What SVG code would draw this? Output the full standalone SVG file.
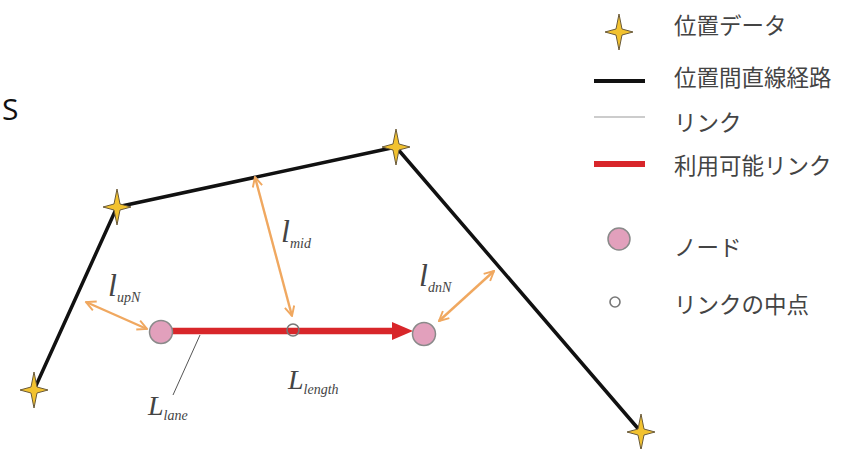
<svg xmlns="http://www.w3.org/2000/svg" width="841" height="449" viewBox="0 0 841 449">
<style>
.path{fill:none;stroke:#111;stroke-width:3.5;stroke-linejoin:round}
.dim{fill:none;stroke:#f0a860;stroke-width:2.4}
.node{fill:#e2a0bc;stroke:#8a8a8a;stroke-width:1.5}
.mid{fill:none;stroke:#777;stroke-width:1.6}
.leg{font-family:"Noto Sans CJK JP","Noto Sans",sans-serif;font-size:22.5px;fill:#444}
.var{font-family:"Liberation Serif",serif;font-style:italic;fill:#444}
.big{font-size:32px}
.sub{font-size:14px}
</style>
<defs>
<symbol id="star" viewBox="-16 -20 32 40" overflow="visible">
<path d="M0,-18 L3,-3 L14,0 L3,3 L0,18 L-3,3 L-14,0 L-3,-3 Z" fill="#f2c230" stroke="#6a5a3a" stroke-width="1"/>
</symbol>
<marker id="oa" viewBox="0 0 10 10" refX="9" refY="5" markerWidth="5" markerHeight="5" orient="auto-start-reverse" markerUnits="strokeWidth">
<path d="M1,1 L9,5 L1,9" fill="none" stroke="#f0a860" stroke-width="1.6"/>
</marker>
</defs>
<text x="2" y="120" font-family="'Open Sans','Liberation Sans',sans-serif" font-size="30" fill="#111">S</text>
<g id="connectors">
<polyline id="route" class="path" points="34,390 117,207 396,147 641,432"/>
<line class="dim" x1="255" y1="177" x2="292" y2="316" marker-start="url(#oa)" marker-end="url(#oa)"/>
<line class="dim" x1="86" y1="302" x2="147" y2="329" marker-start="url(#oa)" marker-end="url(#oa)"/>
<line class="dim" x1="494" y1="271" x2="439" y2="321" marker-start="url(#oa)" marker-end="url(#oa)"/>
<line x1="172" y1="331" x2="394" y2="331" stroke="#d8262a" stroke-width="6.5"/>
<path d="M392,322 L413,331 L392,340 Z" fill="#d8262a"/>
<line x1="200" y1="335" x2="173" y2="395" stroke="#555" stroke-width="1"/>
</g>
<g id="star1"><use href="#star" x="18" y="370" width="32" height="40"/></g>
<g id="star2"><use href="#star" x="101" y="187" width="32" height="40"/></g>
<g id="star3"><use href="#star" x="380" y="127" width="32" height="40"/></g>
<g id="star4"><use href="#star" x="625" y="412" width="32" height="40"/></g>
<g id="node1"><circle class="node" cx="161" cy="332" r="11.5"/></g>
<g id="node2"><circle class="node" cx="424" cy="334" r="11.5"/></g>
<g id="midpoint"><circle class="mid" cx="293" cy="330" r="6"/></g>
<g id="labels">
<text class="var" x="281" y="242"><tspan class="big">l</tspan><tspan class="sub" dy="6">mid</tspan></text>
<text class="var" x="108" y="296"><tspan class="big">l</tspan><tspan class="sub" dy="6">upN</tspan></text>
<text class="var" x="419" y="286"><tspan class="big">l</tspan><tspan class="sub" dy="6">dnN</tspan></text>
<text class="var" x="288" y="389"><tspan font-size="28">L</tspan><tspan class="sub" dy="5">length</tspan></text>
<text class="var" x="148" y="415"><tspan font-size="28">L</tspan><tspan class="sub" dy="5">lane</tspan></text>
</g>
<g id="legend">
<use href="#star" x="603" y="12" width="32" height="40"/>
<text class="leg" x="674" y="34">位置データ</text>
<line x1="594" y1="81" x2="645" y2="81" stroke="#111" stroke-width="4"/>
<text class="leg" x="674" y="86">位置間直線経路</text>
<line x1="594" y1="117" x2="645" y2="117" stroke="#999" stroke-width="1.2"/>
<text class="leg" x="674" y="131">リンク</text>
<line x1="594" y1="164" x2="645" y2="164" stroke="#d8262a" stroke-width="6"/>
<text class="leg" x="674" y="174">利用可能リンク</text>
<circle class="node" cx="619" cy="239" r="11"/>
<text class="leg" x="674" y="256">ノード</text>
<circle class="mid" cx="615" cy="302" r="5"/>
<text class="leg" x="674" y="313">リンクの中点</text>
</g>
</svg>
